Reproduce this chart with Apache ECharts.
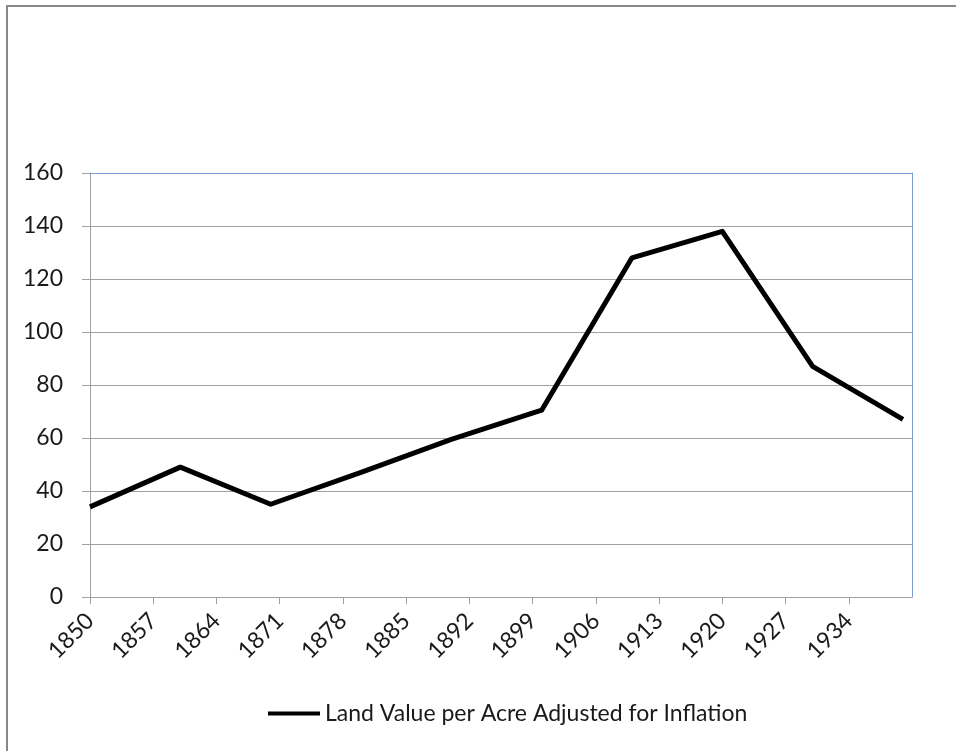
<!DOCTYPE html>
<html>
<head>
<meta charset="utf-8">
<script src="https://cdn.jsdelivr.net/npm/echarts@6/dist/echarts.min.js"></script>
<style>
html,body{margin:0;padding:0;background:#fff;}
#chart{width:956px;height:751px;}
</style>
</head>
<body>
<div id="chart"></div>
<script>
const seriesName = 'Land Value per Acre Adjusted for Inflation';
const years = [1850, 1860, 1870, 1880, 1890, 1900, 1910, 1920, 1930, 1940];
const values = [34, 49, 35, 47, 59.5, 70.5, 128, 138, 87, 67];
const xMin = 1850, xMax = 1941, xStep = 7;
const yMin = 0, yMax = 160, yStep = 20;

const FONT = 'Lato';
const chart = echarts.init(document.getElementById('chart'), null, {renderer: 'canvas'});
const data = years.map((y, i) => [y, values[i]]);
const gray = '#a0a0a0';
const blue = '#7b9bd6';

chart.setOption({
  animation: false,
  backgroundColor: '#fff',
  textStyle: {fontFamily: FONT},
  graphic: [{
    type: 'rect', z: 100,
    shape: {x: 7, y: 6, width: 2000, height: 2000},
    style: {fill: 'none', stroke: '#888', lineWidth: 2}
  }],
  grid: {left: 90, right: 44, top: 173, bottom: 154, show: false},
  legend: {
    top: 697, left: 263,
    data: [{name: seriesName, icon: 'rect'}],
    itemWidth: 52, itemHeight: 4,
    textStyle: {fontFamily: FONT, fontSize: 23, color: '#1a1a1a'}
  },
  xAxis: [{
    type: 'value', min: xMin, max: xMax, interval: xStep,
    axisLine: {show: true, lineStyle: {color: gray, width: 1}},
    axisTick: {show: true, length: 7, lineStyle: {color: gray}},
    splitLine: {show: false},
    axisLabel: {rotate: 45, margin: 20, fontSize: 23, color: '#1a1a1a', fontFamily: FONT,
      showMaxLabel: false, formatter: v => String(v)}
  }, {
    type: 'value', min: xMin, max: xMax, position: 'top', z: 5,
    axisLine: {show: true, onZero: false, lineStyle: {color: blue, width: 1}},
    axisTick: {show: false}, axisLabel: {show: false}, splitLine: {show: false}
  }],
  yAxis: [{
    type: 'value', min: yMin, max: yMax, interval: yStep,
    axisLine: {show: true, lineStyle: {color: gray, width: 1}},
    axisTick: {show: true, length: 8, lineStyle: {color: gray}},
    splitLine: {show: true, lineStyle: {color: gray, width: 1}},
    axisLabel: {margin: 27, fontSize: 23, color: '#1a1a1a', fontFamily: FONT}
  }, {
    type: 'value', min: yMin, max: yMax, position: 'right', z: 5,
    axisLine: {show: true, onZero: false, lineStyle: {color: blue, width: 1}},
    axisTick: {show: false}, axisLabel: {show: false}, splitLine: {show: false}
  }],
  series: [{
    name: seriesName, type: 'line', data: data,
    xAxisIndex: 0, yAxisIndex: 0,
    showSymbol: false, symbol: 'none',
    lineStyle: {color: '#000', width: 5, join: 'round'},
    itemStyle: {color: '#000'}, z: 10
  }]
});
</script>
</body>
</html>
